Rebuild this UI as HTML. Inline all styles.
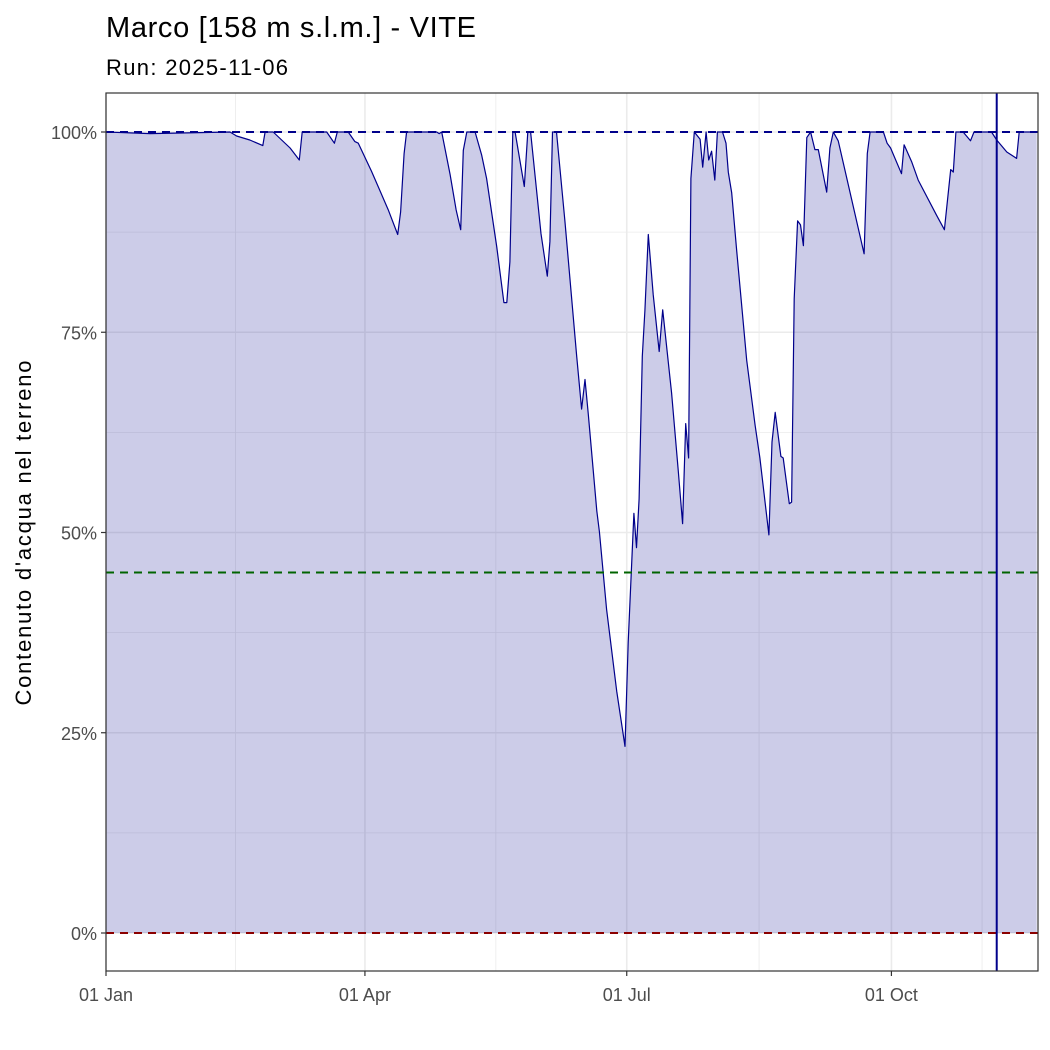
<!DOCTYPE html>
<html><head><meta charset="utf-8"><style>
body{margin:0;background:#fff;}
svg{display:block;font-family:"Liberation Sans",sans-serif;}
</style></head><body>
<svg id="chart" width="1050" height="1050">
<text x="106" y="37" font-size="29" fill="#000" textLength="370">Marco [158 m s.l.m.] - VITE</text>
<text x="106" y="75" font-size="22" fill="#000" textLength="182">Run: 2025-11-06</text>
<text transform="translate(31,533) rotate(-90)" text-anchor="middle" font-size="22" fill="#000" textLength="345">Contenuto d'acqua nel terreno</text>
<g id="grid"></g><g id="marks"></g><g id="axes"></g>
</svg>
<script>
const days=[0,15.3,43.1,45.4,50,54.5,55.3,58.1,64,67.2,68.2,76.7,79.4,80.4,84.2,86.5,87.7,92.3,98.1,101.4,102.4,103.6,104.5,114.9,115.8,116.7,119.6,121.7,123.3,124.2,125.4,128.3,130.6,132.3,135.8,138.3,139.3,140.4,141.4,142.2,145.4,146.6,147.6,151.2,153.4,154.3,155.2,156.6,159.5,163.6,165.3,166.5,167.6,170.6,171.5,174,177.5,180.4,181.5,183.5,184.4,185.3,186.4,187.3,188.5,190.2,192.3,193.5,196.6,198.9,200.4,201.5,202.5,203.3,204.5,206.5,207.4,208.6,209.5,210.5,211.6,212.5,214.3,215.5,216.3,217.5,219.2,222.7,225.6,227.3,230.4,231.5,232.6,234.6,235.4,237.5,238.3,239.2,240.4,241.4,242.4,243.6,244.9,246.4,247.6,250.5,251.6,252.8,254.5,263.5,264.6,265.6,270.2,271.5,272.7,276.5,277.4,280,282.3,288.7,291.4,293.6,294.5,295.4,297.9,300.5,301.7,307.8,309.6,313.1,316.5,317.4,323.5];
const values=[100,99.8,100,99.5,99,98.3,100,100,98,96.5,100,100,98.6,100,100,98.8,98.6,95.1,90.3,87.2,90,97.3,100,100,99.8,100,94.7,90.3,87.8,97.7,100,100,97.1,94.2,85.7,78.7,78.7,83.8,100,100,93.2,100,100,87.3,82,86.3,100,100,88.9,72,65.4,69.1,64.9,52.7,50.1,40.4,30.2,23.3,36.3,52.4,48.1,54.2,72,77.7,87.2,79.7,72.6,77.8,67.4,57.8,51.1,63.6,59.3,94.2,100,99.1,95.6,100,96.5,97.6,94,100,100,98.6,95,92.4,85.3,71.5,63.4,59.3,49.7,61.3,65,59.5,59.3,53.6,53.8,79.2,88.9,88.4,85.8,99.3,100,97.8,97.8,92.5,98,100,98.9,84.8,97.3,100,100,98.6,98,94.8,98.4,96.3,94,89.6,87.8,95.3,95,100,100,98.9,100,100,99,97.5,96.7,100,100];
const yTicks=[0,25,50,75,100];
const yTickLabels=["0%","25%","50%","75%","100%"];
const xTicks=[0,90,181,273];
const xTickLabels=["01 Jan","01 Apr","01 Jul","01 Oct"];
const xMinor=[45,135.5,227,304.5];
const refLines=[100,45,0];
const refColors=["#00008b","#006400","#8b0000"];
const runDay=[309.6];
const X0=106,X1=1038,Y0=93,Y1=971;
const x=d=>106+2.877*d;
const y=v=>933-8.01*v;
const NS="http://www.w3.org/2000/svg";
function mk(tag,attrs,parent){const e=document.createElementNS(NS,tag);for(const k in attrs)e.setAttribute(k,attrs[k]);parent.appendChild(e);return e;}
const grid=document.getElementById('grid'),marks=document.getElementById('marks'),axes=document.getElementById('axes');
let g;
g=mk('rect',{x:X0,y:Y0,width:X1-X0,height:Y1-Y0,fill:'#fff'},grid);


yTicks.forEach((v,i)=>{
  if(i<yTicks.length-1){const m=mk('line',{x1:X0,x2:X1,y1:y(v+12.5),y2:y(v+12.5),stroke:'#ebebeb','stroke-width':0.8},grid);
  
  }
  const l=mk('line',{x1:X0,x2:X1,y1:y(v),y2:y(v),stroke:'#ebebeb','stroke-width':1.6},grid);
  
  
});
xMinor.forEach(d=>{const l=mk('line',{x1:x(d),x2:x(d),y1:Y0,y2:Y1,stroke:'#ebebeb','stroke-width':0.8},grid);
  
  });
xTicks.forEach(d=>{const l=mk('line',{x1:x(d),x2:x(d),y1:Y0,y2:Y1,stroke:'#ebebeb','stroke-width':1.6},grid);
  
  });
let pts=days.map((d,i)=>x(d).toFixed(1)+','+y(values[i]).toFixed(1));
const area=mk('polygon',{points:x(days[0])+','+y(0)+' '+pts.join(' ')+' '+x(days[days.length-1])+','+y(0),fill:'#00008b','fill-opacity':0.2},marks);


const line=mk('polyline',{points:pts.join(' '),fill:'none',stroke:'#00008b','stroke-width':1.2,'stroke-linejoin':'round'},marks);


refLines.forEach((v,i)=>{const l=mk('line',{x1:X0,x2:X1,y1:y(v),y2:y(v),stroke:refColors[i],'stroke-width':2,'stroke-dasharray':'8,6'},marks);
  
  });
runDay.forEach(d=>{const l=mk('line',{x1:x(d),x2:x(d),y1:Y0,y2:Y1,stroke:'#00008b','stroke-width':2},marks);
  
  });
g=mk('rect',{x:X0,y:Y0,width:X1-X0,height:Y1-Y0,fill:'none',stroke:'#333','stroke-width':1.2},axes);


yTicks.forEach((v,i)=>{
  const t=mk('line',{x1:X0-5,x2:X0,y1:y(v),y2:y(v),stroke:'#333','stroke-width':1.2},axes);
  
  
  const tx=mk('text',{x:X0-9,y:y(v)+7,'text-anchor':'end','font-size':18,fill:'#4d4d4d'},axes);
  tx.textContent=yTickLabels[i];
  
  
});
xTicks.forEach((d,i)=>{
  const t=mk('line',{x1:x(d),x2:x(d),y1:Y1,y2:Y1+5,stroke:'#333','stroke-width':1.2},axes);
  
  
  const tx=mk('text',{x:x(d),y:1001,'text-anchor':'middle','font-size':18,fill:'#4d4d4d'},axes);
  tx.textContent=xTickLabels[i];
  
  
});
</script>
</body></html>
